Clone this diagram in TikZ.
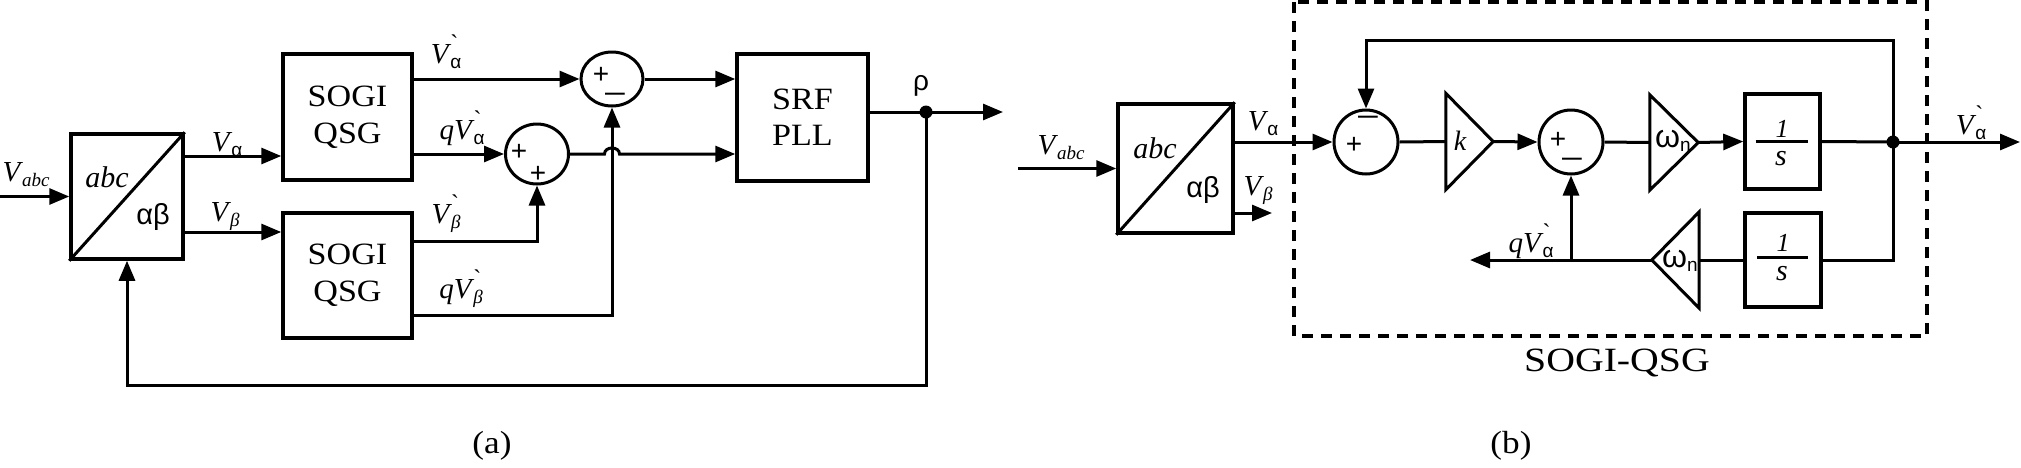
\documentclass[tikz,border=0pt]{standalone}
\usepackage{fontspec}
\setmainfont{Liberation Serif}
\newfontfamily\sgr{Liberation Sans}
\usetikzlibrary{arrows.meta,shapes.geometric,calc}
\newcommand\fs[1]{\fontsize{#1}{#1}\selectfont}
\newcommand\fsl[2]{\fontsize{#1}{#2}\selectfont}
\newcommand\hs[1]{\scalebox{1.1}[1]{#1}}
\newcommand\sbs[1]{\raisebox{-5pt}{\fs{19}#1}}
\newcommand\Vs[1]{\textit{V}\kern-1pt\sbs{#1}}
\newcommand\Vg[1]{\textit{V}\kern-1pt\rlap{\raisebox{12pt}{\fs{24}\textasciigrave}}\sbs{#1}}
\newcommand\ga{{\sgr α}}
\newcommand\gb{\textit{β}}
\newcommand\mn{\scalebox{1.45}[1]{−}}
\tikzset{
  wire/.style={line width=3pt},
  arr/.style={wire,-{Triangle[length=20pt,width=16pt]}},
  blk/.style={draw,line width=3.5pt,inner sep=0pt,rectangle},
  sumA/.style={draw,line width=3pt,ellipse,inner sep=0pt},
  sumB/.style={draw,line width=3pt,circle,inner sep=0pt,minimum size=64pt},
  ghost/.style={inner sep=0pt,rectangle},
  lbl/.style={inner sep=0pt,font=\fs{29}},
  sgn/.style={inner sep=0pt,font=\sgr\fs{28}},
  dotn/.style={circle,fill,inner sep=0pt,minimum size=13pt},
  ttl/.style={inner sep=0pt,font=\fsl{31}{37},align=center},
}
\begin{document}
\begin{tikzpicture}[x=1pt,y=-1pt]
\useasboundingbox (0,0) rectangle (2021,467);
% ================= (a) =================
\node[blk,minimum width=112pt,minimum height=125pt] (abcA) at (127,196.5) {};
\draw[wire] (abcA.south west) -- (abcA.north east);
\node[inner sep=0pt,font=\fs{30}\itshape] (tabcA) at (107,177) {abc};
\node[inner sep=0pt,font=\sgr\fs{29}] (tabA) at (153,217) {αβ};
\coordinate (inA) at (0,196.5);
\draw[arr] (inA) -- (abcA.west);
\node[lbl] (lVabcA) at (26,175) {\Vs{\textit{abc}}};

\node[blk,ttl,minimum width=129pt,minimum height=126pt] (sogiA1) at (347.5,117) {\hs{SOGI}\\\hs{QSG}};
\node[blk,ttl,minimum width=129pt,minimum height=125pt] (sogiA2) at (347.5,275.5) {\hs{SOGI}\\\hs{QSG}};
\coordinate (yA1) at (0,156);
\coordinate (yA2) at (0,232);
\draw[arr] (abcA.east|-yA1) -- (sogiA1.west|-yA1);
\draw[arr] (abcA.east|-yA2) -- (sogiA2.west|-yA2);
\node[lbl] (lVaA) at (227,145) {\Vs{\ga}};
\node[lbl] (lVbA) at (225,217) {\Vs{\gb}};

\node[sumA,minimum width=62pt,minimum height=54pt] (sumA1) at (612,79) {};
\node[sumA,minimum width=63pt,minimum height=60pt] (sumA2) at (537,154) {};
\node[blk,ttl,font=\fsl{31}{36},minimum width=131pt,minimum height=127pt] (srf) at (802.5,117.5) {\hs{SRF}\\\hs{PLL}};

\coordinate (yA5) at (0,241);
\coordinate (yA6) at (0,315);
\coordinate (yA7) at (0,112);
\coordinate (yA8) at (0,385);
\draw[arr] (sogiA1.east|-sumA1.west) -- (sumA1.west);
\draw[arr] (sumA1.east) -- (srf.west|-sumA1.east);
\draw[arr] (sogiA1.east|-sumA2.west) -- (sumA2.west);
\draw[arr] (sumA2.east) -- ($(sumA1.south|-sumA2.east)+(-7.5,0)$)
   .. controls +(0,-8) and +(0,-8) .. ($(sumA1.south|-sumA2.east)+(7.5,0)$)
   -- (srf.west|-sumA2.east);
\draw[arr] (sogiA2.east|-yA5) -| (sumA2.south);
\draw[arr] (sogiA2.east|-yA6) -| (sumA1.south);

\node[lbl] (lVgaA) at (446,52) {\Vg{\ga}};
\node[lbl] (lqVgaA) at (462,128) {\textit{q}\Vg{\ga}};
\node[lbl] (lVgbA) at (446,214) {\Vg{\gb}};
\node[lbl] (lqVgbA) at (461,289) {\textit{q}\Vg{\gb}};

\node[sgn] (pA1) at (601,75) {+};
\node[sgn] (mA1) at (615,98) {\mn};
\node[sgn] (pA2) at (519,152) {+};
\node[sgn] (pA3) at (538,174) {+};

\node[dotn] (dotA) at (926,112) {};
\coordinate (outA) at (1003,112);
\draw[wire] (srf.east|-yA7) -- (dotA.center);
\draw[arr] (dotA.center) -- (outA);
\draw[arr] (dotA.center) -- (dotA.center|-yA8) -| (abcA.south);
\node[inner sep=0pt,font=\sgr\fs{28}] (rho) at (921,86) {ρ};

\node[inner sep=0pt,font=\fs{32}] (capA) at (492,446) {\hs{(a)}};

% ================= (b) =================
\draw[line width=4.5pt,dash pattern=on 11pt off 8pt] (1294,2) rectangle (1927,336);
\node[inner sep=0pt,font=\fs{34}] (sogiT) at (1617,363) {\scalebox{1.17}[1]{SOGI-QSG}};

\node[blk,minimum width=115pt,minimum height=129pt] (abcB) at (1175.5,168.5) {};
\draw[wire] (abcB.south west) -- (abcB.north east);
\node[inner sep=0pt,font=\fs{30}\itshape] (tabcB) at (1155,148) {abc};
\node[inner sep=0pt,font=\sgr\fs{29}] (tabB) at (1203,190) {αβ};
\coordinate (inB) at (1018,168.5);
\draw[arr] (inB) -- (abcB.west);
\node[lbl] (lVabcB) at (1061,148) {\Vs{\textit{abc}}};

\node[sumB] (sumB1) at (1366,142) {};
\node[sumB] (sumB2) at (1571,142) {};
\draw[arr] (abcB.east|-sumB1.west) -- (sumB1.west);
\node[lbl] (lVaB) at (1263,124) {\Vs{\ga}};
\coordinate (yB1) at (0,213);
\coordinate (vbB) at (1272,213);
\draw[arr] (abcB.east|-yB1) -- (vbB);
\node[lbl] (lVbB) at (1258,191) {\Vs{\gb}};

\node[ghost,minimum width=47pt,minimum height=96pt] (kB) at (1469.5,141.5) {};
\draw[wire,line join=miter] (kB.north west) -- (kB.east) -- (kB.south west) -- cycle;
\node[inner sep=0pt,font=\fs{28}\itshape] (tk) at (1460,141) {k};
\draw[wire] (sumB1.east) -- (kB.west);
\draw[arr] (kB.east) -- (sumB2.west);

\node[ghost,minimum width=48pt,minimum height=95pt] (wB1) at (1674,142.5) {};
\draw[wire] (wB1.north west) -- (wB1.east) -- (wB1.south west) -- cycle;
\node[inner sep=0pt,font=\sgr\fs{32}] (tw1) at (1673,141) {ω\raisebox{-4pt}{\fs{19}n}};
\draw[wire] (sumB2.east) -- (wB1.west);

\node[blk,minimum width=75pt,minimum height=95pt] (intB1) at (1782.5,141.5) {};
\draw[wire] ($(intB1.center)+(-27,0)$) -- ($(intB1.center)+(25,0)$);
\node[inner sep=0pt,font=\fs{26}\itshape] (i1n) at (1782,129) {1};
\node[inner sep=0pt,font=\fs{30}\itshape] (i1d) at (1781,159) {s};
\draw[arr] (wB1.east) -- (intB1.west);

\node[dotn] (dotB) at (1893,142) {};
\coordinate (outB) at (2020,142);
\coordinate (yB0) at (0,40);
\draw[wire] (intB1.east) -- (dotB.center);
\draw[arr] (dotB.center) -- (outB);
\draw[arr] (dotB.center) -- (dotB.center|-yB0) -| (sumB1.north);
\node[lbl] (lVgaB) at (1971,123) {\Vg{\ga}};

\node[blk,minimum width=76pt,minimum height=94pt] (intB2) at (1783,260) {};
\draw[wire] ($(intB2.center)+(-26,-3)$) -- ($(intB2.center)+(25,-3)$);
\node[inner sep=0pt,font=\fs{26}\itshape] (i2n) at (1783,243) {1};
\node[inner sep=0pt,font=\fs{30}\itshape] (i2d) at (1782,274) {s};

\node[ghost,minimum width=47pt,minimum height=96pt] (wB2) at (1675.5,260) {};
\draw[wire] (wB2.north east) -- (wB2.west) -- (wB2.south east) -- cycle;
\node[inner sep=0pt,font=\sgr\fs{32}] (tw2) at (1680,261) {ω\raisebox{-4pt}{\fs{19}n}};

\draw[wire] (dotB.center) |- (intB2.east);
\draw[wire] (intB2.west) -- (wB2.east);
\coordinate (qB) at (1470,260);
\draw[arr] (wB2.west) -- (qB);
\draw[arr] (sumB2.south|-wB2.west) -- (sumB2.south);
\node[lbl] (lqVgaB) at (1531,241) {\textit{q}\Vg{\ga}};

\node[sgn] (pB1) at (1354,145) {+};
\node[sgn] (mB1) at (1368,121) {\mn};
\node[sgn] (pB2) at (1558,140) {+};
\node[sgn] (mB2) at (1572,163) {\mn};

\node[inner sep=0pt,font=\fs{32}] (capB) at (1511,446) {\hs{(b)}};
\end{tikzpicture}
\end{document}
